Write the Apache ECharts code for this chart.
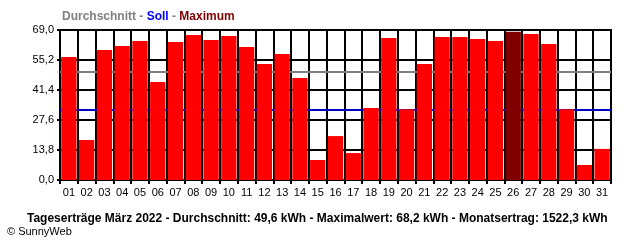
<!DOCTYPE html>
<html><head><meta charset="utf-8">
<script src="https://cdn.jsdelivr.net/npm/echarts@6/dist/echarts.min.js"></script>
<style>html,body{margin:0;padding:0;background:#fff}#c{width:640px;height:240px}</style>
</head><body><div id="c"></div>
<script>
const days = ['01','02','03','04','05','06','07','08','09','10','11','12','13','14','15','16','17','18','19','20','21','22','23','24','25','26','27','28','29','30','31'];
const yields = [56.6,18.4,59.8,61.6,63.9,45.1,63.5,66.7,64.4,66.2,61.2,53.4,58.0,46.9,9.2,20.2,12.4,33.1,65.3,32.5,53.4,65.8,65.8,64.9,63.9,68.2,67.2,62.6,32.5,6.9,14.3];
const average = [49.6];
const target = [32.5];
const maxDayIndex = [25];
const yTicks = [0, 13.8, 27.6, 41.4, 55.2, 69.0];

const chart = echarts.init(document.getElementById('c'), null, {renderer:'canvas'});
const F = 'Liberation Sans, Arial, sans-serif';
chart.setOption({
  animation:false,
  backgroundColor:'#fff',
  title:[{
    text:'{g|Durchschnitt - }{b|Soll}{g| - }{r|Maximum}',
    left:57, top:6,
    textStyle:{rich:{
      g:{color:'#808080',fontWeight:'bold',fontSize:12,fontFamily:F},
      b:{color:'#0000ff',fontWeight:'bold',fontSize:12,fontFamily:F},
      r:{color:'#800000',fontWeight:'bold',fontSize:12,fontFamily:F}
    }}
  },{
    text:'Tageserträge März 2022 - Durchschnitt: 49,6 kWh - Maximalwert: 68,2 kWh - Monatsertrag: 1522,3 kWh',
    left:22, top:208,
    textStyle:{color:'#000',fontWeight:'bold',fontSize:12,fontFamily:F}
  },{
    text:'© SunnyWeb',
    left:2, top:221,
    textStyle:{color:'#000',fontWeight:'normal',fontSize:11,fontFamily:F}
  }],
  grid:{left:60,right:29,top:30,bottom:60,show:true,borderColor:'#000',borderWidth:2},
  xAxis:{
    type:'category', data:days, boundaryGap:true,
    axisLine:{show:true,lineStyle:{color:'#000',width:2}},
    axisTick:{show:true,length:4,lineStyle:{color:'#000',width:2},interval:0},
    axisLabel:{color:'#000',fontSize:11,fontFamily:F,margin:7,interval:0},
    splitLine:{show:true,lineStyle:{color:'#000',width:2},interval:0}
  },
  yAxis:{
    type:'value', min:0, max:69, interval:13.8,
    axisLine:{show:true,lineStyle:{color:'#000',width:2}},
    axisTick:{show:true,length:3,lineStyle:{color:'#000',width:2}},
    axisLabel:{color:'#000',fontSize:11,fontFamily:F,margin:6,
      formatter:v=>{const t=yTicks.find(x=>Math.abs(x-v)<0.01);return (t!==undefined?t:v).toFixed(1).replace('.',',');}},
    splitLine:{show:true,lineStyle:{color:'#000',width:2}}
  },
  series:[{
    type:'line', data:[], z:1,
    markLine:{
      silent:true, symbol:'none', label:{show:false}, z:1,
      data:[
        {yAxis:average[0],lineStyle:{color:'#808080',width:2,type:'solid'}},
        {yAxis:target[0],lineStyle:{color:'#0000c0',width:2,type:'solid'}}
      ]
    }
  },{
    type:'bar', z:3,
    data:yields.map((v,i)=>({value:v,itemStyle:{color:maxDayIndex.includes(i)?'#800000':'#ff0000'}})),
    barCategoryGap:'14%'
  }]
});
</script></body></html>
